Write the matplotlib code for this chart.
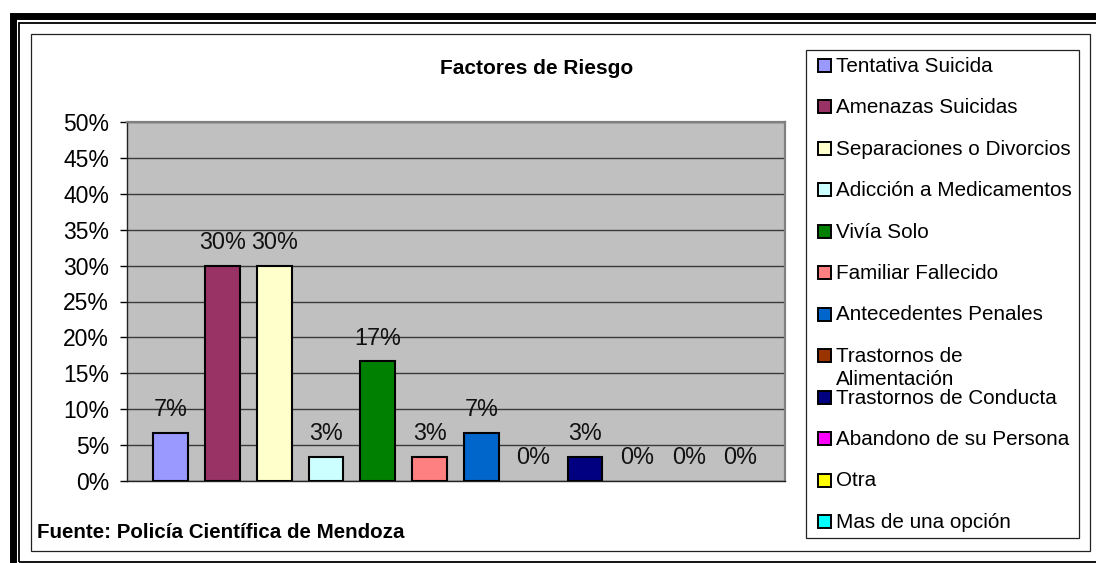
import matplotlib
matplotlib.use('Agg')
import matplotlib.pyplot as plt
from matplotlib.patches import Rectangle

plt.rcParams['font.family'] = ['Liberation Sans', 'DejaVu Sans']

categorias = ['Tentativa Suicida', 'Amenazas Suicidas', 'Separaciones o Divorcios',
              'Adicción a Medicamentos', 'Vivía Solo', 'Familiar Fallecido',
              'Antecedentes Penales', 'Trastornos de\nAlimentación',
              'Trastornos de Conducta', 'Abandono de su Persona', 'Otra',
              'Mas de una opción']
valores = [6.67, 30.0, 30.0, 3.33, 16.67, 3.33, 6.67, 0.0, 3.33, 0.0, 0.0, 0.0]
etiquetas = ['7%', '30%', '30%', '3%', '17%', '3%', '7%', '0%', '3%', '0%', '0%', '0%']
colores = ['#9999FF', '#993366', '#FFFFCC', '#CCFFFF', '#008000', '#FF8080',
           '#0066CC', '#993300', '#000080', '#FF00FF', '#FFFF00', '#00FFFF']
yticks = [0, 5, 10, 15, 20, 25, 30, 35, 40, 45, 50]

W, H = 1096, 563
fig = plt.figure(figsize=(W / 100, H / 100), dpi=100)


def fx(x):
    return x / W


def fy(y):
    return 1 - y / H


def caja(x0, y0, x1, y1, lw, color='black'):
    fig.add_artist(Rectangle((fx(x0), fy(y1)), fx(x1) - fx(x0), fy(y0) - fy(y1),
                             transform=fig.transFigure, fill=False, lw=lw,
                             edgecolor=color))


# marcos exteriores
caja(12.5, 16.5, 1115, 580, 5.0)
caja(19, 23, 1101, 561.5, 1.3)
caja(31, 34, 1090, 551, 0.9, '#222222')

ax = fig.add_axes([fx(127), fy(481), fx(785) - fx(127), fy(122) - fy(481)])
ax.set_facecolor('#C0C0C0')
x = list(range(len(valores)))
bordes = [1.5 if v > 0 else 0 for v in valores]
ax.bar(x, valores, width=0.67, color=colores, edgecolor='black', linewidth=bordes, zorder=3)

for xi, v, t in zip(x, valores, etiquetas):
    ax.annotate(t, (xi, v), xytext=(0, 12), textcoords='offset points',
                ha='center', va='baseline', fontsize=16.8, color='#111111', zorder=4)

ax.set_xlim(-0.84, 11.86)
ax.set_ylim(0, 50)
ax.set_yticks(yticks)
ax.set_yticklabels([f'{t}%' for t in yticks], fontsize=16.5)
ax.tick_params(axis='y', direction='out', length=5, width=1, pad=8, colors='black')
ax.set_xticks([])
ax.yaxis.grid(True, color='#3a3a3a', linewidth=1.0, zorder=0)
ax.set_axisbelow(True)
for s in ['top', 'right']:
    ax.spines[s].set_color('#808080')
    ax.spines[s].set_linewidth(1.6)
for s in ['left', 'bottom']:
    ax.spines[s].set_color('#222222')
    ax.spines[s].set_linewidth(1.0)

fig.text(fx(537), fy(68), 'Factores de Riesgo', ha='center', va='center',
         fontsize=15, fontweight='bold')
fig.text(fx(37), fy(532), 'Fuente: Policía Científica de Mendoza', ha='left',
         va='center', fontsize=14.8, fontweight='bold')

# leyenda
caja(806, 50, 1079, 538, 0.9, '#222222')
for i, (nombre, c) in enumerate(zip(categorias, colores)):
    yc = 65 + 41.5 * i
    fig.add_artist(Rectangle((fx(817.5), fy(yc + 6.5)), fx(13) - fx(0), fy(0) - fy(13),
                             transform=fig.transFigure, facecolor=c,
                             edgecolor='black', lw=1.4))
    for j, linea in enumerate(nombre.split('\n')):
        fig.text(fx(836), fy(yc + 6.5 + 23 * j), linea, ha='left', va='baseline',
                 fontsize=14.9)

fig.savefig('out.png', dpi=100)
